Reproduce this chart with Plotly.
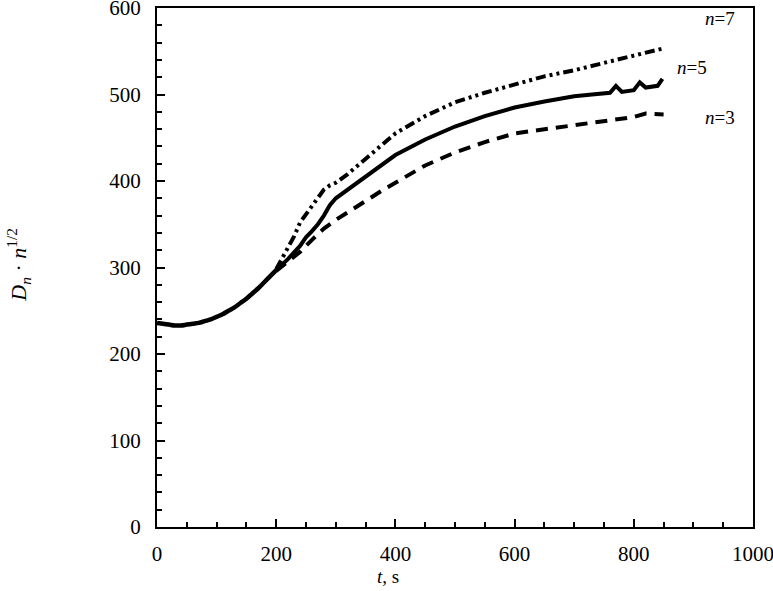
import plotly.graph_objects as go

t_common = [0, 10, 20, 30, 40, 50, 60, 70, 80, 90, 100, 110, 120, 130, 140, 150, 160, 170, 180, 190, 200]
y_common = [236, 235, 234, 233, 233, 234, 235, 236, 238, 240, 243, 246, 250, 254, 259, 264, 270, 276, 283, 290, 297]

t_n7 = [200, 210, 220, 230, 240, 250, 260, 270, 280, 290, 300, 320, 340, 360, 380, 400, 450, 500, 550, 600, 650, 700, 750, 800, 848]
y_n7 = [298, 311, 322, 336, 352, 362, 372, 382, 390, 395, 398, 408, 420, 432, 444, 455, 475, 491, 502, 512, 521, 528, 537, 545, 553]

t_n5 = [200, 220, 240, 250, 260, 270, 280, 290, 300, 320, 340, 360, 380, 400, 450, 500, 550, 600, 650, 700, 730, 760, 770, 780, 800, 810, 820, 840, 848]
y_n5 = [297, 310, 325, 335, 342, 350, 360, 372, 380, 390, 400, 410, 420, 430, 448, 463, 475, 485, 492, 498, 500, 502, 510, 503, 505, 514, 508, 510, 518]

t_n3 = [200, 220, 240, 260, 280, 300, 320, 340, 360, 380, 400, 450, 500, 550, 600, 650, 700, 750, 800, 820, 850]
y_n3 = [296, 307, 318, 332, 345, 355, 364, 373, 381, 390, 398, 418, 433, 445, 455, 460, 465, 470, 474, 478, 477]

labels = ["<i>n</i>=7", "<i>n</i>=5", "<i>n</i>=3"]
label_x = [945, 898, 945]
label_y = [588, 531, 473]

FONT = "'Liberation Serif', 'Times New Roman', serif"

fig = go.Figure()
fig.add_trace(go.Scatter(x=t_common, y=y_common, mode="lines", line_shape="spline",
                         line=dict(color="black", width=4.5), showlegend=False))
fig.add_trace(go.Scatter(x=t_n7, y=y_n7, mode="lines",
                         line=dict(color="black", width=4, dash="10px,4px,3px,4px,3px,4px"),
                         showlegend=False))
fig.add_trace(go.Scatter(x=t_n5, y=y_n5, mode="lines",
                         line=dict(color="black", width=4), showlegend=False))
fig.add_trace(go.Scatter(x=t_n3, y=y_n3, mode="lines",
                         line=dict(color="black", width=4, dash="12px,8px"),
                         showlegend=False))

for txt, lx, ly in zip(labels, label_x, label_y):
    fig.add_annotation(x=lx, y=ly, text=txt, showarrow=False,
                       xanchor="center", yanchor="middle",
                       font=dict(family=FONT, size=19, color="black"))

fig.add_annotation(xref="paper", yref="paper", x=-0.232, y=0.505, textangle=-90,
                   xanchor="center", yanchor="middle",
                   text="<i>D</i><sub><i>n</i></sub> · <i>n</i><sup>1/2</sup>",
                   showarrow=False, font=dict(family=FONT, size=22, color="black"))
fig.add_annotation(xref="paper", yref="paper", x=0.388, y=-0.096,
                   xanchor="center", yanchor="middle",
                   text="<i>t</i>, s", showarrow=False,
                   font=dict(family=FONT, size=19, color="black"))

axis_common = dict(showgrid=False, zeroline=False, showline=True, linecolor="black",
                   linewidth=2, mirror=True, ticks="inside", tickcolor="black",
                   tickwidth=1.5, ticklen=8, ticklabeloverflow="allow", automargin=False,
                   tickfont=dict(family=FONT, size=21, color="black"))

fig.update_xaxes(range=[0, 1000], dtick=200, tick0=0,
                 minor=dict(dtick=50, ticks="inside", ticklen=5, tickcolor="black", tickwidth=1.5),
                 ticklabelstandoff=7, **axis_common)
fig.update_yaxes(range=[0, 600], dtick=100, tick0=0,
                 minor=dict(dtick=20, ticks="inside", ticklen=5, tickcolor="black", tickwidth=1.5),
                 ticklabelstandoff=10, **axis_common)

fig.update_layout(width=773, height=591,
                  margin=dict(l=157, r=20, t=8, b=64),
                  plot_bgcolor="white", paper_bgcolor="white",
                  font=dict(family=FONT, color="black"))

fig.write_html("out.html")
